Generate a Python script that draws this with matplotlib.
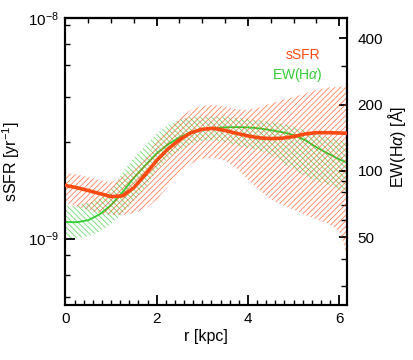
import matplotlib
matplotlib.use("Agg")
import matplotlib.pyplot as plt
from matplotlib.ticker import FixedLocator, MultipleLocator, NullFormatter, FixedFormatter

plt.rcParams['font.family'] = ['Liberation Sans', 'DejaVu Sans']
plt.rcParams['mathtext.fontset'] = 'custom'
plt.rcParams['mathtext.rm'] = 'Liberation Sans'
plt.rcParams['mathtext.it'] = 'Liberation Sans:italic'
plt.rcParams['hatch.linewidth'] = 0.6

# ---------- DATA ----------
r = [0.0, 0.25, 0.5, 0.75, 1.0, 1.25, 1.5, 1.75, 2.0, 2.25, 2.5, 2.75, 3.0,
     3.25, 3.5, 3.75, 4.0, 4.25, 4.5, 4.75, 5.0, 5.25, 5.5, 5.75, 6.0, 6.16]

# sSFR in units of 1e-9 / yr
ssfr = [1.74, 1.70, 1.65, 1.60, 1.55, 1.56, 1.70, 1.95, 2.26, 2.55, 2.80, 3.02, 3.13,
        3.16, 3.09, 3.00, 2.92, 2.86, 2.84, 2.85, 2.90, 2.98, 3.02, 3.02, 3.01, 3.00]
ssfr_hi = [1.99, 1.95, 1.90, 1.84, 1.80, 1.90, 2.10, 2.35, 2.75, 3.15, 3.50, 3.85, 4.00,
           4.03, 3.97, 3.85, 3.83, 3.93, 4.10, 4.25, 4.38, 4.55, 4.72, 4.84, 4.87, 4.97]
ssfr_lo = [1.45, 1.40, 1.35, 1.30, 1.28, 1.28, 1.30, 1.36, 1.50, 1.72, 1.95, 2.18, 2.30,
           2.33, 2.25, 2.08, 1.85, 1.66, 1.50, 1.42, 1.35, 1.28, 1.22, 1.17, 1.08, 0.86]

# EW(Halpha) in Angstrom
ew = [58.7, 58.5, 59.8, 63.5, 70.0, 80.0, 93.0, 106.0, 120.0, 132.0, 142.0, 150.0, 154.0,
      156.5, 157.5, 158.0, 157.5, 156.0, 153.0, 150.0, 145.5, 138.0, 128.0, 120.0, 113.0, 109.0]
ew_hi = [68.9, 70.0, 71.5, 75.0, 82.0, 98.0, 115.0, 130.0, 148.0, 162.0, 171.0, 176.0, 176.0,
         176.0, 176.0, 174.0, 172.0, 170.0, 167.0, 163.0, 159.0, 153.0, 147.0, 142.0, 138.0, 137.0]
ew_lo = [48.7, 49.5, 50.5, 53.0, 57.5, 64.0, 73.0, 84.0, 100.0, 114.0, 123.0, 132.0, 137.0,
         138.0, 135.0, 130.0, 127.0, 124.0, 118.0, 110.0, 101.0, 95.0, 90.0, 87.0, 82.0, 80.0]

ssfr_scale = 1e-9
ylim_left = (5.0e-10, 1.0e-8)
ew_per_ssfr = 4.936e10  # EW axis is the sSFR axis shifted in log
ew_ticks = [50, 100, 200, 400]

orange = '#ff4a12'
green = '#33cc33'

fig = plt.figure(figsize=(4.14, 3.6), dpi=100)
ax = fig.add_axes([0.158, 0.153, 0.679, 0.797])
ax2 = ax.twinx()

s = [v * ssfr_scale for v in ssfr]
s_hi = [v * ssfr_scale for v in ssfr_hi]
s_lo = [v * ssfr_scale for v in ssfr_lo]

ax.fill_between(r, s_lo, s_hi, facecolor='none', edgecolor=orange, hatch='//////',
                linewidth=0, alpha=0.7)
ax2.fill_between(r, ew_lo, ew_hi, facecolor='none', edgecolor=green, hatch='\\\\\\\\\\\\',
                 linewidth=0, alpha=0.7)
ax2.plot(r, ew, color=green, lw=1.3)
ax.plot(r, s, color=orange, lw=2.6, zorder=5)
ax.set_zorder(ax2.get_zorder() + 1)
ax.patch.set_visible(False)

ax.set_yscale('log')
ax.set_ylim(*ylim_left)
ax.set_xlim(0, 6.16)
ax2.set_yscale('log')
ax2.set_ylim(ylim_left[0] * ew_per_ssfr, ylim_left[1] * ew_per_ssfr)

ax.xaxis.set_major_locator(MultipleLocator(2))
ax.xaxis.set_minor_locator(MultipleLocator(0.2))
ax.yaxis.set_minor_locator(FixedLocator([5.45e-10, 6.85e-10, 8.4e-10, 2.75e-9,
                                         4.4e-9, 6.1e-9, 7.65e-9, 9.3e-9]))
ax.yaxis.set_minor_formatter(NullFormatter())

ax2.yaxis.set_major_locator(FixedLocator(ew_ticks))
ax2.yaxis.set_major_formatter(FixedFormatter([str(t) for t in ew_ticks]))
ax2.yaxis.set_minor_locator(FixedLocator([30, 40, 60, 70, 80, 90, 300]))
ax2.yaxis.set_minor_formatter(NullFormatter())

top = ax.secondary_xaxis('top')
top.xaxis.set_major_locator(MultipleLocator(2))
top.xaxis.set_minor_locator(MultipleLocator(0.5))
top.xaxis.set_major_formatter(NullFormatter())
top.tick_params(which='major', direction='in', length=6, width=1.3)
top.tick_params(which='minor', direction='in', length=3.5, width=1.0)

for a in (ax, ax2):
    for sp in a.spines.values():
        sp.set_linewidth(1.5)
top.spines['top'].set_linewidth(1.5)

ax.tick_params(which='major', direction='in', length=7, width=1.3, labelsize=11, pad=5)
ax.tick_params(which='minor', direction='in', length=3.5, width=1.0)
ax2.tick_params(which='major', direction='in', length=6, width=1.3, labelsize=11, pad=8)
ax2.tick_params(which='minor', direction='in', length=4, width=1.0)

ax.set_xlabel('r [kpc]', fontsize=11.5, labelpad=2)
ax.set_ylabel(r'sSFR [yr$^{-1}$]', fontsize=11.5, labelpad=4)
ax2.set_ylabel(r'EW(H$\alpha$) [Å]', fontsize=11.5, labelpad=4)
ax2.yaxis.set_label_coords(1.14, 0.55)

ax.text(0.905, 0.87, 'sSFR', color=orange, fontsize=10, ha='right', va='center',
        transform=ax.transAxes)
ax.text(0.915, 0.80, r'EW(H$\alpha$)', color=green, fontsize=10, ha='right', va='center',
        transform=ax.transAxes)

fig.savefig('out.png', dpi=100)
